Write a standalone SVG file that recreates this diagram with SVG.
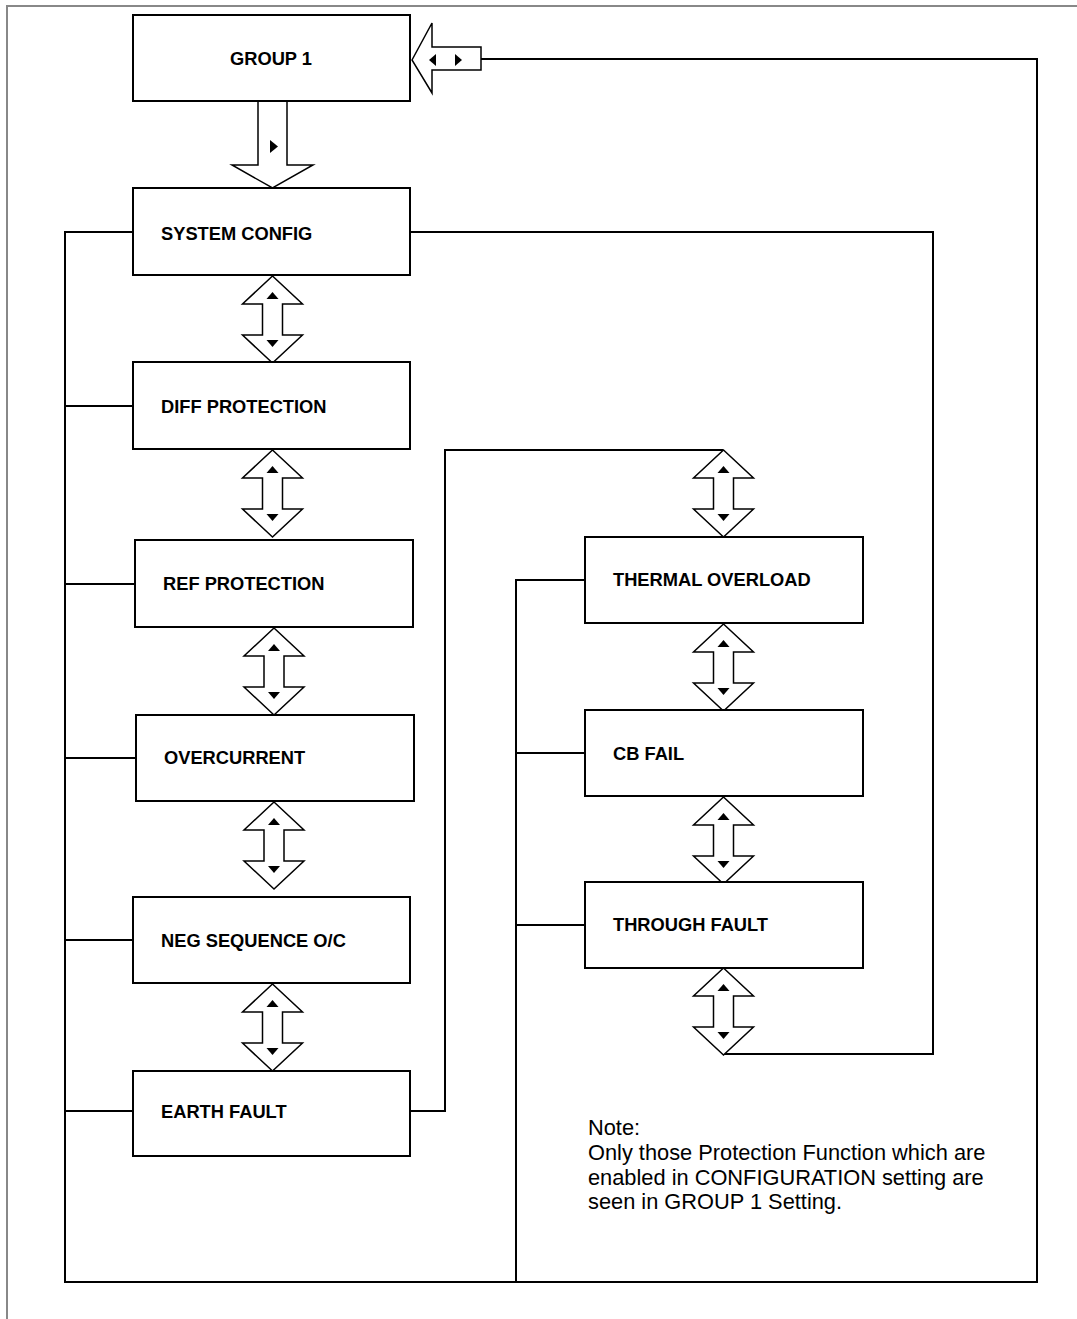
<svg xmlns="http://www.w3.org/2000/svg" xmlns:xlink="http://www.w3.org/1999/xlink" width="1077" height="1319" viewBox="0 0 1077 1319">
<style>
.box{fill:#fff;stroke:#000;stroke-width:2}
.lbl{font-family:"Liberation Sans",Arial,sans-serif;font-weight:bold;font-size:18.3px;fill:#000}
.note{font-family:"Liberation Sans",Arial,sans-serif;font-size:21.8px;fill:#000}
.ln{fill:none;stroke:#000;stroke-width:2}
.arr{fill:#fff;stroke:#000;stroke-width:1.5;stroke-linejoin:miter}
.tri{fill:#000}
</style>
<defs>
<g id="dbl">
<path class="arr" d="M0,0 L30,28 L10,28 L10,59 L30,59 L0,87 L-30,59 L-10,59 L-10,28 L-30,28 Z"/>
<path class="tri" d="M-6,23 L6,23 L0,16 Z"/>
<path class="tri" d="M-6,64 L6,64 L0,71 Z"/>
</g>
</defs>
<rect width="1077" height="1319" fill="#fff"/>
<path d="M7,1319 L7,6 L1077,6" fill="none" stroke="#888" stroke-width="2"/>
<g id="connectors">
<path class="ln" d="M481,59 L1037,59 L1037,1282 L65,1282 L65,232 L133,232"/>
<path class="ln" d="M65,406 L133,406"/>
<path class="ln" d="M65,584 L135,584"/>
<path class="ln" d="M65,758 L136,758"/>
<path class="ln" d="M65,940 L133,940"/>
<path class="ln" d="M65,1111 L133,1111"/>
<path class="ln" d="M410,1111 L445,1111 L445,450 L723,450"/>
<path class="ln" d="M410,232 L933,232 L933,1054 L723,1054"/>
<path class="ln" d="M516,1282 L516,580 L585,580"/>
<path class="ln" d="M516,753 L585,753"/>
<path class="ln" d="M516,925 L585,925"/>
</g>
<g id="arrows">
<path class="arr" d="M412,60 L432,23 L432,47 L481,47 L481,70 L432,70 L432,93 Z"/>
<path class="tri" d="M436,54 L436,66 L429,60 Z"/>
<path class="tri" d="M455,54 L455,66 L462,60 Z"/>
<path class="arr" d="M258,101 L287,101 L287,165 L313,165 L272.5,188 L232,165 L258,165 Z"/>
<path class="tri" d="M270,140 L270,153 L278,146.5 Z"/>
<use xlink:href="#dbl" x="272.5" y="276"/>
<use xlink:href="#dbl" x="272.5" y="450"/>
<use xlink:href="#dbl" x="274" y="628"/>
<use xlink:href="#dbl" x="274" y="802"/>
<use xlink:href="#dbl" x="272.5" y="984"/>
<use xlink:href="#dbl" x="723.5" y="450"/>
<use xlink:href="#dbl" x="723.5" y="624"/>
<use xlink:href="#dbl" x="723.5" y="797"/>
<use xlink:href="#dbl" x="723.5" y="968"/>
</g>
<g id="group1"><rect class="box" x="133" y="15" width="277" height="86"/><text class="lbl" x="230" y="65">GROUP 1</text></g>
<g id="sysconfig"><rect class="box" x="133" y="188" width="277" height="87"/><text class="lbl" x="161" y="240">SYSTEM CONFIG</text></g>
<g id="diff"><rect class="box" x="133" y="362" width="277" height="87"/><text class="lbl" x="161" y="413">DIFF PROTECTION</text></g>
<g id="ref"><rect class="box" x="135" y="540" width="278" height="87"/><text class="lbl" x="163" y="590">REF PROTECTION</text></g>
<g id="overcurrent"><rect class="box" x="136" y="715" width="278" height="86"/><text class="lbl" x="164" y="764">OVERCURRENT</text></g>
<g id="negseq"><rect class="box" x="133" y="897" width="277" height="86"/><text class="lbl" x="161" y="947">NEG SEQUENCE O/C</text></g>
<g id="earth"><rect class="box" x="133" y="1071" width="277" height="85"/><text class="lbl" x="161" y="1118">EARTH FAULT</text></g>
<g id="thermal"><rect class="box" x="585" y="537" width="278" height="86"/><text class="lbl" x="613" y="586">THERMAL OVERLOAD</text></g>
<g id="cbfail"><rect class="box" x="585" y="710" width="278" height="86"/><text class="lbl" x="613" y="760">CB FAIL</text></g>
<g id="through"><rect class="box" x="585" y="882" width="278" height="86"/><text class="lbl" x="613" y="931">THROUGH FAULT</text></g>
<g id="note">
<text class="note" x="588" y="1135">Note:</text>
<text class="note" x="588" y="1160">Only those Protection Function which are</text>
<text class="note" x="588" y="1185">enabled in CONFIGURATION setting are</text>
<text class="note" x="588" y="1209">seen in GROUP 1 Setting.</text>
</g>
</svg>
